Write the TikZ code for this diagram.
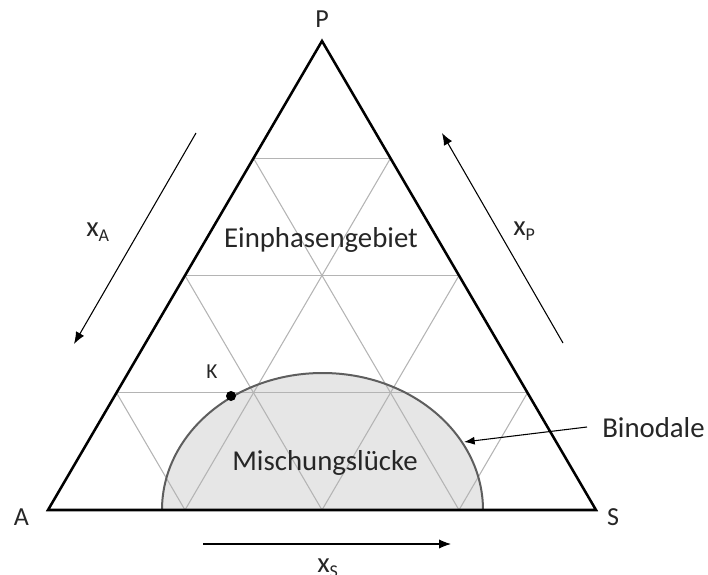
\documentclass[tikz,border=0pt]{standalone}
\usepackage{fontspec}
\setmainfont{Carlito}
\usetikzlibrary{calc,arrows.meta}
\definecolor{txt}{HTML}{262626}
\definecolor{gridc}{HTML}{B4B4B4}
\definecolor{binc}{HTML}{5E5E5E}
\definecolor{fillc}{HTML}{E6E6E6}
\newcommand{\subA}[1]{{\fontsize{13.5}{14}\selectfont\raisebox{-3.8pt}{#1}}}
\tikzset{
  gridline/.style={draw=gridc, line width=0.8pt},
  border/.style={draw=black, line width=1.9pt, line join=miter},
  axisarrow/.style={draw=black, line width=0.8pt, -{Latex[length=9pt,width=7pt]}},
  bigtext/.style={font=\fontsize{21.6}{25}\selectfont, text=txt, inner sep=0pt},
  vlabel/.style={font=\fontsize{19.5}{22}\selectfont, text=txt, inner sep=0pt},
  klabel/.style={font=\fontsize{16}{18}\selectfont, text=txt, inner sep=0pt},
  xlabel/.style={font=\fontsize{21.5}{24}\selectfont, text=txt, inner sep=0pt},
}
\begin{document}
\begin{tikzpicture}[x=0.75pt,y=-0.75pt]
\useasboundingbox (0,0) rectangle (708,575);
\coordinate (A) at (48,510);
\coordinate (S) at (596,510);
\coordinate (P) at (322,41);
% binodal fill
\fill[fillc] (162,510) arc[start angle=180,end angle=360,x radius=160.5,y radius=137] -- cycle;
% grid
\foreach \t in {0.25,0.5,0.75}{
  \draw[gridline] ($(A)!\t!(P)$) -- ($(S)!\t!(P)$);
  \draw[gridline] ($(A)!\t!(S)$) -- ($(S)!1-\t!(P)$);
  \draw[gridline] ($(S)!\t!(A)$) -- ($(A)!1-\t!(P)$);
}
% binodal curve
\draw[binc, line width=1.5pt] (162,510) arc[start angle=180,end angle=360,x radius=160.5,y radius=137];
% triangle
\draw[border] (A) -- (S) -- (P) -- cycle;
% K point
\coordinate (Kpt) at (231,396);
\fill[black] (Kpt) circle[radius=5];
\node[klabel, anchor=base] (K) at (212,378) {K};
% vertex labels
\node[vlabel, anchor=base] (lA) at (21.5,525) {A};
\node[vlabel, anchor=base] (lS) at (613,525) {S};
\node[vlabel, anchor=base] (lP) at (322,27) {P};
% region texts
\node[bigtext, anchor=base] (ein) at (321,247) {Einphasengebiet};
\node[bigtext, anchor=base] (misch) at (325,470) {Mischungslücke};
\node[bigtext, anchor=base west] (bino) at (602,437) {Binodale};
\coordinate (bintip) at (464,442);
\draw[black, line width=0.8pt, -{Latex[length=8pt,width=6pt]}] (587,427) -- (bintip);
% axis arrows
\coordinate (a1) at (196,133); \coordinate (a2) at (74,344);
\draw[axisarrow] (a1) -- (a2);
\coordinate (p1) at (563,343); \coordinate (p2) at (442,133);
\draw[axisarrow] (p1) -- (p2);
\coordinate (s1) at (203,544); \coordinate (s2) at (451,544);
\draw[axisarrow] (s1) -- (s2);
\node[xlabel, anchor=base west] (xA) at (86,236) {x\subA{A}};
\node[xlabel, anchor=base west] (xP) at (513,235) {x\subA{P}};
\node[xlabel, anchor=base west] (xS) at (317,572) {x\subA{S}};
\end{tikzpicture}
\end{document}
